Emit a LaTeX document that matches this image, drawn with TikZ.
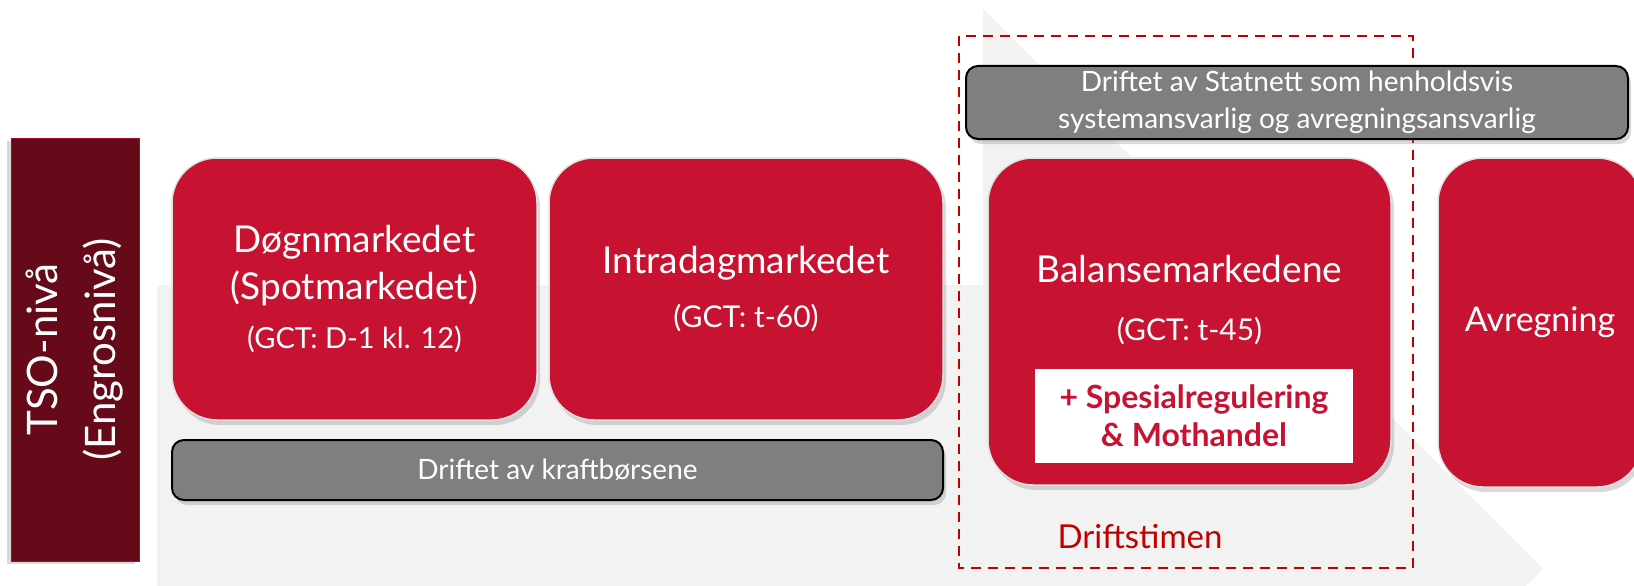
\documentclass[tikz,border=0pt]{standalone}
\usepackage{fontspec}
\setmainfont{Lato}
\usetikzlibrary{shadows}

\definecolor{marketred}{RGB}{200,18,50}
\definecolor{tsored}{RGB}{102,10,26}
\definecolor{boxgray}{RGB}{127,127,127}
\definecolor{bggray}{RGB}{242,242,242}
\definecolor{darkred}{RGB}{192,0,0}

\begin{document}
\begin{tikzpicture}[x=1pt,y=-1pt,
                    market node/.style={rounded corners=45pt,fill=marketred,draw=black!12,line width=1.5pt,text=white,align=center,inner sep=0pt,
                                        drop shadow={shadow xshift=3pt,shadow yshift=-5pt,opacity=0.3},font=\fontsize{37}{47}\selectfont},
                    gray node/.style={rounded corners=12pt,fill=boxgray,draw=black,line width=2pt,text=white,align=center,inner sep=0pt,
                                      drop shadow={shadow xshift=3pt,shadow yshift=-5pt,opacity=0.3},font=\fontsize{28}{37}\selectfont}]
\useasboundingbox (0,0) rectangle (1634,586);

\fill[bggray] (157,285) -- (983,285) -- (983,9) -- (1543,569) -- (1526,586) -- (157,586) -- cycle;
\draw[darkred,line width=2.5pt,dash pattern=on 10pt off 7pt] (959,36) rectangle (1413,568);

\node[fill=tsored,draw=marketred!60!tsored,line width=1pt,text=white,align=center,rotate=90,
      minimum width=423pt,minimum height=128pt,inner sep=0pt,
      drop shadow={shadow xshift=-4pt,shadow yshift=-3pt,opacity=0.3},
      font=\fontsize{42}{58}\selectfont] (tso) at (75,349.5) {TSO-nivå\\(Engrosnivå)};

\node[market node,minimum width=365pt,minimum height=262pt] (dogn) at (354.5,289)
     {Døgnmarkedet\\(Spotmarkedet)\\[2pt]{\fontsize{29}{40}\selectfont (GCT: D-1 kl. 12)}};
\node[market node,minimum width=394pt,minimum height=262pt] (intra) at (746,289)
     {Intradagmarkedet\\[7pt]{\fontsize{30}{40}\selectfont (GCT: t-60)}};
\node[market node,minimum width=403pt,minimum height=327pt] (balanse) at (1189.5,321.5) {};
\node[text=white,align=center,font=\fontsize{37}{47}\selectfont] (balanse text) at (1189.5,300)
     {Balansemarkedene\\[11pt]{\fontsize{30}{40}\selectfont (GCT: t-45)}};
\node[fill=white,text=marketred,align=center,minimum width=318pt,minimum height=94pt,inner sep=0pt,
      font=\bfseries\fontsize{32}{38}\selectfont] (special) at (1194,416) {+ Spesialregulering\\\& Mothandel};
\node[market node,minimum width=204pt,minimum height=329pt,font=\fontsize{34}{47}\selectfont] (avregning) at (1540,322.5) {Avregning};

\node[gray node,minimum width=662pt,minimum height=73pt] (statnett) at (1297,102.5)
     {Driftet av Statnett som henholdsvis\\systemansvarlig og avregningsansvarlig};
\node[gray node,minimum width=771pt,minimum height=60pt] (borsene) at (557.5,470) {Driftet av kraftbørsene};

\node[text=darkred,font=\fontsize{33}{40}\selectfont] (driftstimen) at (1140,537) {Driftstimen};
\end{tikzpicture}
\end{document}
